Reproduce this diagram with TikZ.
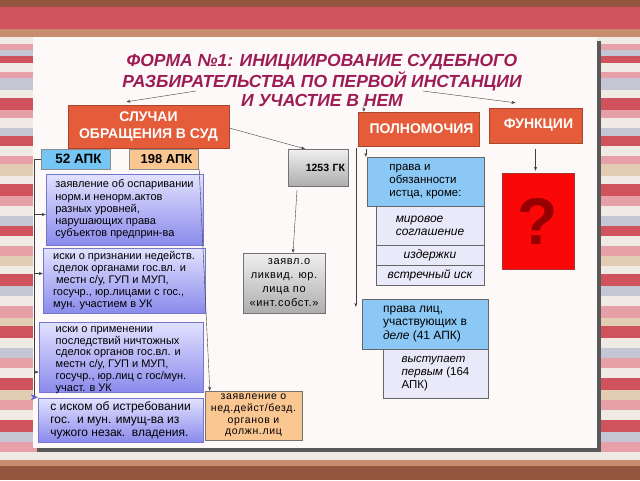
\documentclass[tikz,border=0pt]{standalone}
\usepackage{fontspec}
\setmainfont{Liberation Sans}
\newfontfamily\widefont[LetterSpace=6]{Liberation Sans}
\usepackage{xcolor}
\usepackage{tikz}
\usetikzlibrary{arrows.meta,shapes}

\definecolor{titlered}{RGB}{158,28,84}
\definecolor{headred}{RGB}{228,92,58}
\definecolor{caseT}{RGB}{226,226,255}
\definecolor{caseB}{RGB}{138,138,236}
\definecolor{caseD}{RGB}{118,118,205}
\definecolor{apkblue}{RGB}{118,198,245}
\definecolor{peach}{RGB}{250,198,145}
\definecolor{pravblue}{RGB}{140,200,245}
\definecolor{lav}{RGB}{233,233,250}
\definecolor{qred}{RGB}{250,8,8}
\definecolor{qdark}{RGB}{150,0,0}
\definecolor{paper}{RGB}{253,249,249}
\definecolor{stBrown}{RGB}{150,85,62}
\definecolor{stRed}{RGB}{208,82,92}
\definecolor{stTan}{RGB}{200,140,110}
\definecolor{stLight}{RGB}{240,234,228}
\definecolor{stPink}{RGB}{232,160,168}
\definecolor{stGrey}{RGB}{196,198,212}
\definecolor{stBeige}{RGB}{226,204,180}

\begin{document}
\begin{tikzpicture}[x=1pt, y=-1pt,
  every node/.style={inner sep=0pt, font=\fontsize{11}{12.2}\selectfont},
  title/.style={text=titlered, font=\fontsize{17.5}{19}\selectfont\bfseries\itshape, align=center},
  head/.style={fill=headred, draw=headred!75!black, text=white, font=\fontsize{14}{17}\selectfont\bfseries, align=center},
  caseb/.style={top color=caseT, bottom color=caseB, draw=caseD, align=left},
  greyb/.style={top color=black!6, bottom color=black!32, draw=black!55, align=center},
  blueb/.style={fill=pravblue, draw=black!60, align=left, font=\fontsize{11.5}{12.8}\selectfont},
  lavb/.style={fill=lav, draw=black!60, align=left, font=\fontsize{12}{13.2}\selectfont\itshape},
  arr/.style={-{Stealth[length=4pt,width=3pt]}, black!75, thin}]
\useasboundingbox (0,0) rectangle (640,480);
\foreach \ya/\yb/\c in {0/7/stBrown, 7/29/stRed, 29/37/stTan, 37/44/stLight, 44/50/stPink,
  50/56/stGrey, 56/63/stRed, 63/72/stLight, 72/78/stPink, 78/90/stGrey, 90/98/stLight,
  98/110/stRed, 110/118/stPink, 118/128/stLight, 128/136/stGrey, 136/146/stRed,
  146/156/stLight, 156/164/stPink, 164/176/stBeige, 176/184/stLight, 184/196/stRed,
  196/206/stPink, 206/216/stLight, 216/226/stGrey, 226/236/stRed, 236/246/stLight,
  246/256/stPink, 256/266/stBeige, 266/274/stLight, 274/286/stRed, 286/296/stGrey,
  296/306/stLight, 306/318/stPink, 318/326/stBeige, 326/338/stRed, 338/348/stLight,
  348/358/stGrey, 358/368/stPink, 368/378/stLight, 378/390/stRed, 390/400/stBeige,
  400/410/stPink, 410/420/stLight, 420/432/stRed, 432/442/stGrey, 442/452/stPink,
  452/460/stLight, 460/466/stTan, 466/480/stBrown}
  \fill[\c] (0,\ya) rectangle (640,\yb);
\fill[black!65] (37,41) rectangle (601,452);
\fill[paper] (33,37) rectangle (597,448);

\node[title] (title) at (322,80.5) {ФОРМА №1: ИНИЦИИРОВАНИЕ СУДЕБНОГО\\РАЗБИРАТЕЛЬСТВА ПО ПЕРВОЙ ИНСТАНЦИИ\\И УЧАСТИЕ В НЕМ};

\node[head, minimum width=161, minimum height=43] (sluch) at (148.5,126.5) {СЛУЧАИ\\ОБРАЩЕНИЯ В СУД};
\node[head, minimum width=121, minimum height=34] (polnom) at (418.5,129) {\hspace{6pt}ПОЛНОМОЧИЯ};
\node[head, minimum width=93, minimum height=35] (funk) at (535.5,125.5) {\hspace{6pt}ФУНКЦИИ};

\node[fill=apkblue, draw=black!45, minimum width=69, minimum height=20, font=\fontsize{13.5}{15}\selectfont\bfseries] (apk52) at (75.5,159) {\hspace{6pt}52 АПК};
\node[fill=peach, draw=black!45, minimum width=69, minimum height=20, font=\fontsize{13}{15}\selectfont\bfseries] (apk198) at (163.5,159) {\hspace{6pt}198 АПК};
\node[greyb, minimum width=60, minimum height=37, text width=54, align=right, font=\fontsize{10.5}{12}\selectfont\bfseries] (gk) at (318,167.5) {1253 ГК};

\node[caseb, minimum width=157, minimum height=71] (caseA) at (124.5,209.5) {заявление об оспаривании\\норм.и ненорм.актов\\разных уровней,\\нарушающих права\\субъектов предприн-ва};
\node[caseb, minimum width=162, minimum height=65] (caseB) at (124,280.5) {иски о признании недейств.\\сделок органами гос.вл. и\\\hspace{3pt}местн с/у, ГУП и МУП,\\госучр., юр.лицами с гос.,\\мун. участием в УК};
\node[caseb, minimum width=164, minimum height=70] (caseC) at (121,357) {};
\node[align=left, font=\fontsize{11}{11.8}\selectfont] (caseCtext) at ([yshift=-3pt]caseC.center) {иски о применении\\последствий ничтожных\\сделок органов гос.вл. и\\местн с/у, ГУП и МУП,\\госучр., юр.лиц с гос/мун.\\участ. в УК};
\node[caseb, minimum width=165, minimum height=44, font=\fontsize{12}{13}\selectfont] (caseD) at (120.5,420) {с иском об истребовании\\гос.\ \ и мун. имущ-ва из\\чужого незак.\ \ владения.};
\node[fill=peach, draw=black!55, minimum width=97, minimum height=49, align=center, font=\widefont\fontsize{10.5}{11.7}\selectfont] (nedeist) at (253.5,415.5) {заявление о\\нед.дейст/безд.\\органов и\\должн.лиц};
\node[greyb, minimum width=82, minimum height=60, font=\widefont\fontsize{11}{14}\selectfont] (likvid) at (284,283) {\hspace{10pt}заявл.о\\ликвид. юр.\\лица по\\«инт.собст.»};

\node[blueb, minimum width=117, minimum height=49] (prava) at (425.5,181.5) {права и\\обязанности\\истца, кроме:};
\node[lavb, minimum width=108, minimum height=39] (mir) at (430,225.5) {мировое\\соглашение};
\node[lavb, minimum width=108, minimum height=20] (izd) at (430,255) {издержки};
\node[lavb, minimum width=108, minimum height=20] (vstr) at (430,275) {встречный иск};
\node[blueb, minimum width=126, minimum height=50, font=\fontsize{12}{13.3}\selectfont] (pravaL) at (425,324) {права лиц,\\участвующих в\\\textit{деле} (41 АПК)};
\node[lavb, minimum width=105, minimum height=49, font=\fontsize{11.5}{13.3}\selectfont] (vyst) at (435.5,373.5) {\textit{выступает}\\\textit{первым} (164\\АПК)};
\node[fill=qred, draw=qdark!80, minimum width=72, minimum height=96, text=qdark, font=\fontsize{66}{66}\selectfont\bfseries] (qbox) at (538,221) {?};

\coordinate (tl) at (196,91);
\coordinate (tr) at (423,91);
\coordinate (tm) at (364,102);
\coordinate (spine) at (34,159);
\draw[arr] (tl) -- ([xshift=-22pt,yshift=3pt]sluch.north);
\draw[arr] (tr) -- ([xshift=-20pt,yshift=5pt]funk.north);
\draw[arr] (tm) -- ([xshift=6pt]polnom.north west);
\draw[arr] ([yshift=-1.5pt]sluch.east) -- ([xshift=-13pt]gk.north);
\draw[arr] ([xshift=-21pt,yshift=-4pt]gk.south) -- ([xshift=9pt]likvid.north);
\draw[arr] ([xshift=-2pt,yshift=-2pt]polnom.south west) -- ([xshift=-6pt,yshift=-8pt]pravaL.north west);
\draw[arr] ([xshift=8pt,yshift=-3pt]polnom.south west) -- ([xshift=-1pt]prava.north west);
\draw[arr] ([yshift=-6pt]funk.south) -- ([yshift=2pt]funk.south |- qbox.north);
\draw[arr] ([xshift=1pt]apk198.south east) -- ([xshift=5pt]nedeist.north west);
\draw[black!75, thin] (apk52.west) -- (spine);
\draw[-{Stealth[length=7pt,width=6pt,color=caseD!80!blue]}, black!75, thin] (spine) |- ([yshift=0.5pt]caseD.north west);
\foreach \b/\d in {caseA/-5, caseB/7, caseC/-15}
  \draw[arr] ([yshift=\d pt]spine |- \b.west) -- ([yshift=\d pt]\b.west);
\end{tikzpicture}
\end{document}
